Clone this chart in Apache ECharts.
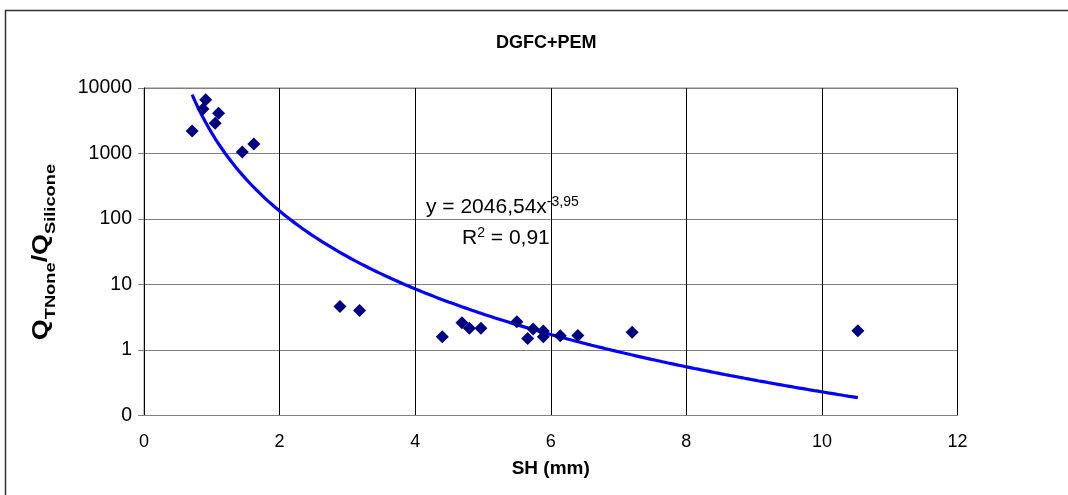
<!DOCTYPE html>
<html>
<head>
<meta charset="utf-8">
<script src="https://cdn.jsdelivr.net/npm/echarts@6/dist/echarts.min.js"></script>
<style>
  html, body { margin: 0; padding: 0; background: #fff; }
  #chart { width: 1068px; height: 495px; }
</style>
</head>
<body>
<div id="chart"></div>
<script>
// Measured ratio of flow rates versus SH
const shMm = [0.71, 0.87, 0.91, 1.05, 1.10, 1.45, 1.62, 2.89, 3.18, 4.40, 4.69, 4.80, 4.97,
              5.50, 5.66, 5.74, 5.89, 5.89, 6.14, 6.40, 7.20, 10.53];
const qRatio = [2200, 4800, 6600, 2900, 4100, 1050, 1400, 4.6, 4.0, 1.6, 2.6, 2.15, 2.15,
                2.7, 1.5, 2.1, 1.95, 1.6, 1.65, 1.67, 1.86, 1.97];

// Power-law trendline coefficients y = a * x^b
const fitA = 2046.54;
const fitB = -3.95;
const fitR2 = 0.91;

const xTicks = [0, 2, 4, 6, 8, 10, 12];
const yTicks = [0.1, 1, 10, 100, 1000, 10000];

const fmt = v => String(v).replace('.', ',');

// Sample the trendline across the measured SH range
const xLo = Math.min(...shMm), xHi = Math.max(...shMm);
const trend = [];
for (let i = 0; i <= 200; i++) {
  const x = xLo + (xHi - xLo) * i / 200;
  trend.push([x, fitA * Math.pow(x, fitB)]);
}

const chart = echarts.init(document.getElementById('chart'));
const font = 'Liberation Sans, Arial, sans-serif';

chart.setOption({
  animation: false,
  backgroundColor: '#fff',
  title: {
    text: 'DGFC+PEM',
    left: 491, top: 29,
    textStyle: { fontFamily: font, fontSize: 18, fontWeight: 'bold', color: '#000' }
  },
  grid: { left: 144, right: 110.5, top: 88, bottom: 79.5, show: true, borderColor: '#808080', borderWidth: 1 },
  xAxis: {
    type: 'value', min: xTicks[0], max: xTicks[xTicks.length - 1], interval: 2,
    name: 'SH (mm)', nameLocation: 'middle', nameGap: 44,
    nameTextStyle: { fontFamily: font, fontSize: 19, fontWeight: 'bold', color: '#000' },
    axisLine: { lineStyle: { color: '#808080' } },
    axisTick: { show: false },
    axisLabel: { fontFamily: font, fontSize: 18, color: '#000', margin: 18 },
    splitLine: { show: true, lineStyle: { color: '#000', width: 1 } }
  },
  yAxis: {
    type: 'log', logBase: 10, min: yTicks[0], max: yTicks[yTicks.length - 1],
    axisLine: { show: true, lineStyle: { color: '#000' } },
    axisTick: { show: true, length: 6, lineStyle: { color: '#808080' } },
    axisLabel: {
      fontFamily: font, fontSize: 19.5, color: '#000', margin: 12,
      formatter: v => (v < 1 ? '0' : String(Math.round(v)))
    },
    splitLine: { show: true, lineStyle: { color: '#808080', width: 1 } }
  },
  graphic: [
    {
      type: 'rect', left: 3, top: 8, silent: true, z: -1,
      shape: { width: 1080, height: 500 },
      style: { fill: 'none', stroke: '#333', lineWidth: 1.5 }
    },
    {
      // vertical axis title with subscripts, stretched along its length
      type: 'text', x: 39, y: 252, rotation: Math.PI / 2, scaleX: 1.22, z: 10,
      style: {
        text: '{q|Q}{sub|TNone}{q|/Q}{sub|Silicone}',
        align: 'center', verticalAlign: 'middle',
        rich: {
          q: { fontFamily: font, fontSize: 22, fontWeight: 'bold', fill: '#000', lineHeight: 26, verticalAlign: 'bottom' },
          sub: { fontFamily: font, fontSize: 15, fontWeight: 'bold', fill: '#000', lineHeight: 26, verticalAlign: 'bottom', padding: [0, 0, -6, 0] }
        }
      }
    },
    {
      type: 'text', left: 426, top: 195, z: 10,
      style: {
        text: 'y = ' + fmt(fitA) + 'x{sup|' + fmt(fitB) + '}',
        font: '21px ' + font, fill: '#000',
        rich: { sup: { fontSize: 14, fontFamily: font, fill: '#000', verticalAlign: 'top', padding: [0, 0, 10, 0] } }
      }
    },
    {
      type: 'text', left: 462, top: 226, z: 10,
      style: {
        text: 'R{sup|2} = ' + fmt(fitR2),
        font: '21px ' + font, fill: '#000',
        rich: { sup: { fontSize: 14, fontFamily: font, fill: '#000', verticalAlign: 'top', padding: [0, 0, 10, 0] } }
      }
    }
  ],
  series: [
    {
      type: 'line', data: trend, showSymbol: false, smooth: false, z: 3,
      lineStyle: { color: '#0000ff', width: 3.2 }
    },
    {
      type: 'scatter', data: shMm.map((x, i) => [x, qRatio[i]]),
      symbol: 'diamond', symbolSize: 13, z: 4,
      itemStyle: { color: '#000080', opacity: 1 }
    }
  ]
});
</script>
</body>
</html>
